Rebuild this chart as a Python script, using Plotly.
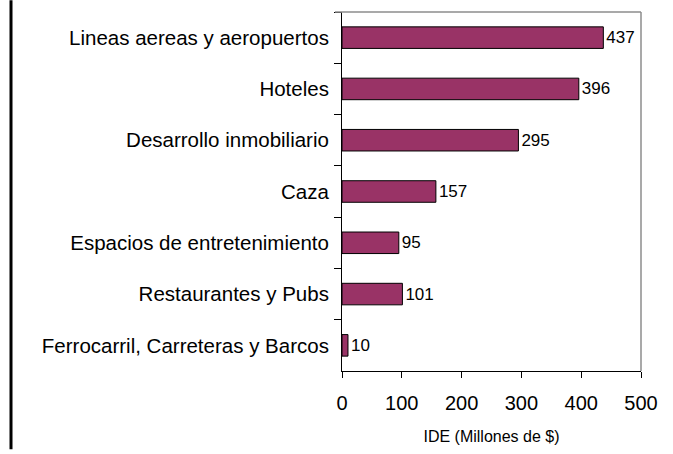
import plotly.graph_objects as go

categories = [
    "Lineas aereas y aeropuertos",
    "Hoteles",
    "Desarrollo inmobiliario",
    "Caza",
    "Espacios de entretenimiento",
    "Restaurantes y Pubs",
    "Ferrocarril, Carreteras y Barcos",
]
values = [437, 396, 295, 157, 95, 101, 10]
x_ticks = [0, 100, 200, 300, 400, 500]
x_title = "IDE (Millones de $)"

W, H = 673, 454
L, R, T, B = 342, 32, 12, 79
pw, ph = W - L - R, H - T - B

fig = go.Figure(
    go.Bar(
        x=values,
        y=categories,
        orientation="h",
        width=0.42,
        marker=dict(color="#993366", line=dict(color="black", width=1)),
        text=[str(v) for v in values],
        textposition="outside",
        textfont=dict(size=17, color="black", family="Liberation Sans, Arial"),
        cliponaxis=False,
    )
)

fig.update_layout(
    width=W,
    height=H,
    margin=dict(l=L, r=R, t=T, b=B),
    paper_bgcolor="white",
    plot_bgcolor="white",
    showlegend=False,
    font=dict(family="Liberation Sans, Arial", color="black"),
    xaxis=dict(
        range=[0, 500],
        tickvals=x_ticks,
        ticktext=[str(t) for t in x_ticks],
        showgrid=False,
        zeroline=False,
        showline=True,
        linecolor="black",
        linewidth=1,
        ticks="outside",
        ticklen=6,
        tickcolor="black",
        tickfont=dict(size=20),
        ticklabelstandoff=8,
        title=dict(text=x_title, font=dict(size=16), standoff=17),
    ),
    yaxis=dict(
        categoryorder="array",
        categoryarray=categories,
        autorange="reversed",
        showgrid=False,
        zeroline=False,
        showline=True,
        linecolor="black",
        linewidth=1,
        ticks="outside",
        tickson="boundaries",
        ticklen=7,
        tickcolor="black",
        tickfont=dict(size=20.5),
        ticklabelstandoff=8,
    ),
    shapes=[
        # gray top and right frame of plot area
        dict(type="line", xref="paper", yref="paper", x0=-7 / pw, x1=1.0, y0=1.0, y1=1.0,
             line=dict(color="#8c8c8c", width=1.5)),
        dict(type="line", xref="paper", yref="paper", x0=1.0, x1=1.0, y0=0.0, y1=1.0,
             line=dict(color="#8c8c8c", width=1.5)),
        # black border on the far left of the image
        dict(type="line", xref="paper", yref="paper",
             x0=(11 - L) / pw, x1=(11 - L) / pw,
             y0=(H - B - 0) / ph, y1=(H - B - H) / ph,
             line=dict(color="black", width=3)),
    ],
)

fig.write_html(
    "out.html",
    config={"displayModeBar": False},
    post_script="document.body.style.margin='0';document.body.style.padding='0';",
)
